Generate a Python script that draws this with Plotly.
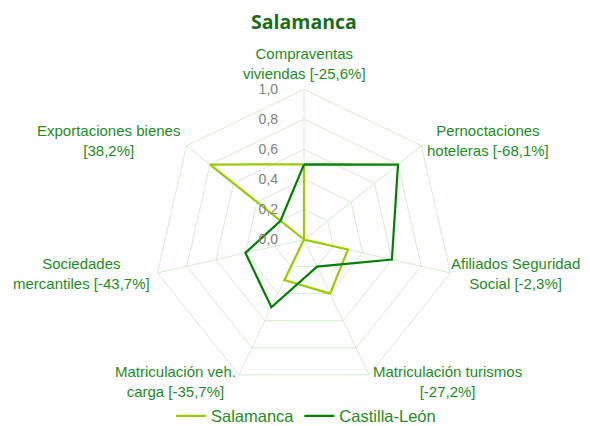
import plotly.graph_objects as go

# ---- data ----
categories = [
    "Compraventas<br>viviendas [-25,6%]",
    "Pernoctaciones<br>hoteleras [-68,1%]",
    "Afiliados Seguridad<br>Social [-2,3%]",
    "Matriculación turismos<br>[-27,2%]",
    "Matriculación veh.<br>carga [-35,7%]",
    "Sociedades<br>mercantiles [-43,7%]",
    "Exportaciones bienes<br>[38,2%]",
]
salamanca = [0.5, 0.0, 0.3, 0.4, 0.3, 0.0, 0.8]
castilla_leon = [0.5, 0.8, 0.6, 0.2, 0.5, 0.4, 0.2]
radial_ticks = [0.0, 0.2, 0.4, 0.6, 0.8, 1.0]
radial_ticktext = ["0,0", "0,2", "0,4", "0,6", "0,8", "1,0"]

# ---- style ----
W, H = 590, 426
OFF = 8  # page body margin
C_SAL = "#99cc00"
C_CYL = "#008000"
C_TEXT = "#1e8c1e"
C_GRID = "#d6ead2"
FONT = "Liberation Sans, Arial, sans-serif"
PAD = "\u00a0" * 6  # pushes radial tick labels left of the axis


def px_x(v):
    return (v - OFF) / W


def px_y(v):
    return 1 - (v - OFF) / H


# polar centre/radius in screen pixels
CX, CY, R = 304, 241.7, 151.7
# label centres in screen pixels (layout only)
label_px = [(304, 64), (488, 141.5), (515, 276), (447, 385),
            (175, 385), (81, 276), (108.5, 141.5)]

fig = go.Figure()
for name, vals, col in [("Salamanca", salamanca, C_SAL),
                        ("Castilla-León", castilla_leon, C_CYL)]:
    fig.add_trace(go.Scatterpolar(
        r=vals + vals[:1],
        theta=categories + categories[:1],
        mode="lines",
        name=name,
        line=dict(color=col, width=2.2),
    ))

annotations = []
for txt, (px, py) in zip(categories, label_px):
    annotations.append(dict(
        text=txt, x=px_x(px), y=px_y(py), xref="paper", yref="paper",
        xanchor="center", yanchor="middle", showarrow=False, align="center",
        font=dict(family=FONT, size=15, color=C_TEXT),
    ))

fig.update_layout(
    width=W, height=H,
    margin=dict(l=0, r=0, t=0, b=0),
    paper_bgcolor="white",
    title=dict(text="<b>Salamanca</b>", x=px_x(304), xanchor="center",
               y=px_y(22), yanchor="middle",
               font=dict(family="Open Sans, sans-serif", size=19.5, color="#1a6e1a")),
    polar=dict(
        domain=dict(x=[px_x(CX - R), px_x(CX + R)],
                    y=[px_y(CY + R), px_y(CY - R)]),
        bgcolor="white",
        gridshape="linear",
        angularaxis=dict(
            direction="clockwise", rotation=90,
            showticklabels=False, ticks="",
            gridcolor=C_GRID, linecolor=C_GRID, gridwidth=1,
        ),
        radialaxis=dict(
            range=[0, 1], tickvals=radial_ticks,
            ticktext=[t + PAD for t in radial_ticktext],
            angle=90, tickangle=90, side="counterclockwise", showline=False,
            ticks="", gridcolor=C_GRID, gridwidth=1,
            tickfont=dict(family=FONT, size=14, color="#808080"),
        ),
    ),
    legend=dict(orientation="h", x=px_x(306), xanchor="center",
                y=px_y(420), yanchor="middle",
                font=dict(family=FONT, size=16.5, color=C_TEXT),
                itemwidth=30, tracegroupgap=0),
    annotations=annotations,
)

fig.write_html("out.html")
